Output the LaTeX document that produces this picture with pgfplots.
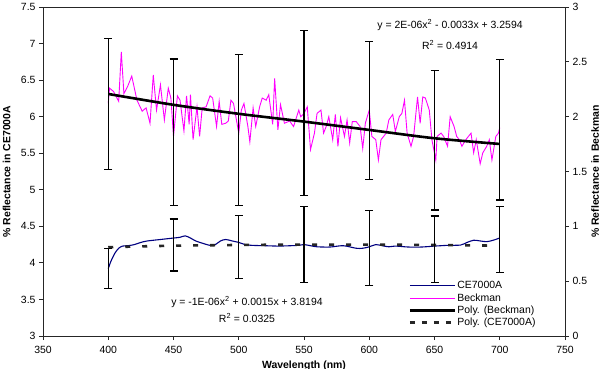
\documentclass[border=0pt]{standalone}
\usepackage{fontspec}
\setmainfont{Liberation Sans}
\usepackage{pgfplots}
\pgfplotsset{compat=1.18}
\definecolor{ceblue}{HTML}{000080}
\definecolor{bkmag}{HTML}{FF00FF}
\begin{document}
\begin{tikzpicture}[font=\fontsize{10.5}{12.6}\selectfont]
\pgfplotsset{
  common/.style={
    at={(0,0)}, anchor=south west,
    width=522bp, height=329bp, scale only axis,
    xmin=350, xmax=750,
    tick align=outside, major tick length=4bp,
    axis line style={black!85, line width=0.8bp},
    every tick/.style={black!85, line width=0.8bp},
    /pgf/number format/assume math mode=true,
    clip=false,
  },
  ebar/.style={draw=none, mark=none, forget plot,
    error bars/.cd, y dir=both, y explicit,
    error bar style={draw=black, line width=1.3bp},
    error mark options={draw=black, rotate=90, mark size=4bp, line width=1.3bp}},
}
\begin{axis}[common,
  ymin=3, ymax=7.5,
  xtick={350,400,...,750}, xtick pos=bottom,
  xticklabel style={yshift=-3bp},
  ytick={3,3.5,...,7.5}, ytick pos=left,
  every axis y label/.style={at={(axis description cs:-0.0699,0.5)}, rotate=90, anchor=center, font=\fontsize{10.5}{12.6}\selectfont\bfseries},
  every axis x label/.style={at={(axis description cs:0.5,-0.1000)}, anchor=base, font=\fontsize{10.5}{12.6}\selectfont\bfseries},
  ylabel={\% Reflectance in CE7000A},
  xlabel={Wavelength (nm)},
]
% CE7000A data
\addplot[ceblue, line width=1.1bp, smooth, forget plot] coordinates {
(400,3.92)(402,4.02)(405,4.13)(408,4.20)(411,4.23)(415,4.235)(420,4.25)(425,4.28)
(430,4.30)(440,4.32)(450,4.34)(455,4.35)(459,4.37)(463,4.34)(467,4.30)(472,4.27)
(478,4.24)(482,4.25)(486,4.30)(490,4.32)(495,4.30)(500,4.28)(505,4.25)(510,4.24)
(520,4.235)(530,4.23)(540,4.235)(546,4.24)(550,4.25)(555,4.235)(560,4.22)(570,4.217)
(580,4.235)(590,4.20)(595,4.20)(600,4.22)(605,4.25)(610,4.235)(615,4.22)(620,4.23)
(630,4.217)(640,4.217)(650,4.23)(655,4.235)(660,4.24)(670,4.244)(675,4.28)(680,4.31)
(685,4.30)(690,4.29)(695,4.31)(700,4.34)};
% Poly (CE7000A)
\addplot[black!85, line width=2.6bp, dash pattern=on 5bp off 12bp, smooth, forget plot] coordinates {
(400,4.215)(450,4.235)(500,4.245)(550,4.25)(600,4.25)(650,4.245)(700,4.235)};
% CE error bars
\addplot[ebar] coordinates {
(400,3.925) +- (0,0.275)
(450,4.245) +- (0,0.355)
(500,4.22) +- (0,0.43)
(550,4.25) +- (0,0.52)
(600,4.205) +- (0,0.515)
(650,4.185) +- (0,0.455)
(700,4.32) +- (0,0.45)};
\node[anchor=center] at (axis cs:506.3,3.465) {y = -1E-06x\textsuperscript{2} + 0.0015x + 3.8194};
\node[anchor=center] at (axis cs:506.3,3.245) {R\textsuperscript{2} = 0.0325};
\node[anchor=center] at (axis cs:661.9,7.254) {y = 2E-06x\textsuperscript{2} - 0.0033x + 3.2594};
\node[anchor=center] at (axis cs:661.9,6.98) {R\textsuperscript{2} = 0.4914};
\end{axis}
\begin{axis}[common,
  ymin=0, ymax=3,
  axis x line=none,
  axis y line*=right,
  ytick={0,0.5,...,3}, ytick pos=right,
  every axis y label/.style={at={(axis description cs:1.0575,0.5)}, rotate=90, anchor=center, font=\fontsize{10.5}{12.6}\selectfont\bfseries},
  ylabel={\% Reflectance in Beckman},
  legend style={at={(0.700,0.170)}, anchor=north west, draw=none, fill=none,
    inner sep=0pt, row sep=0.8bp, nodes={inner sep=1.2bp}, font=\fontsize{10.5}{12.6}\selectfont},
  legend cell align=left,
  legend image code/.code={\draw[#1] (0bp,0bp) -- (45bp,0bp);},
]
\addlegendimage{ceblue, line width=1.2bp}
\addlegendentry{CE7000A}
% Beckman data
\addplot[bkmag, line width=0.9bp] coordinates {
(400,2.12)(401,2.26)(404,2.23)(408,2.14)(410,2.59)(412,2.21)(415,2.28)(418,2.37)
(422,2.15)(426,2.05)(429,2.08)(432,1.94)(434.5,2.38)(437,2.06)(440,2.29)(443,1.97)
(446,2.26)(448,2.17)(450,1.82)(453,2.19)(455,2.15)(458,1.87)(460,2.19)(462,1.93)
(463,2.20)(465,1.79)(468,2.09)(470,1.82)(472,2.08)(475,2.09)(478,2.19)(480,2.17)
(483,1.91)(485,2.14)(487,1.93)(490,1.94)(492,1.96)(494,2.15)(496,2.12)(500,1.85)
(502,2.06)(504,2.12)(507,1.91)(508.5,1.77)(511,2.08)(513,1.91)(516,2.09)(518,2.17)
(521,2.15)(523,2.20)(526,1.93)(527.5,2.35)(530,1.88)(532,2.11)(535,1.94)(539,1.96)
(542,1.91)(546,2.06)(547.5,2.0)(550,2.03)(552.5,2.09)(555,1.70)(558,1.85)(560,2.03)
(563,2.06)(565,1.85)(567,1.91)(569,2.0)(572,1.79)(574,2.02)(576,1.73)(578,1.99)
(581,1.82)(583,1.97)(585,1.76)(587,1.955)(590,1.955)(593,1.91)(595,1.71)(597,1.94)
(600,2.06)(602,1.82)(605,1.79)(607,1.605)(609,1.79)(613,1.85)(615,1.97)(618,2.02)
(620,1.865)(623,2.0)(625,2.03)(627,2.15)(629,1.85)(632,1.73)(634,1.82)(637,2.18)
(639,1.94)(641,2.18)(643,2.17)(646,2.06)(648,1.79)(651,1.605)(652,1.82)(655,1.85)
(657,1.82)(660,1.73)(662,2.0)(665,1.91)(667,1.82)(669,1.79)(671,1.73)(674,1.79)
(676,1.82)(678,1.85)(680,1.67)(682,1.79)(685,1.57)(687,1.67)(690,1.73)(692,1.79)
(694,1.605)(697,1.82)(699,1.85)(700,1.90)};
\addlegendentry{Beckman}
% Poly (Beckman)
\addplot[black, line width=2.6bp, smooth] coordinates {
(400,2.207)(450,2.108)(500,2.026)(550,1.955)(600,1.879)(650,1.803)(700,1.751)};
\addlegendentry{Poly. (Beckman)}
\addlegendimage{black!85, line width=2.6bp, dash pattern=on 5bp off 7bp}
\addlegendentry{Poly. (CE7000A)}
% Beckman error bars
\addplot[ebar] coordinates {
(400,2.117) +- (0,0.597)
(450,1.857) +- (0,0.670)
(500,1.880) +- (0,0.687)
(550,2.033) +- (0,0.754)
(600,2.056) +- (0,0.628)
(650,1.786) +- (0,0.638)
(700,1.879) +- (0,0.640)};
\end{axis}
\pgfresetboundingbox
\useasboundingbox (-43bp,-33bp) rectangle (559bp,336bp);
\end{tikzpicture}
\end{document}
